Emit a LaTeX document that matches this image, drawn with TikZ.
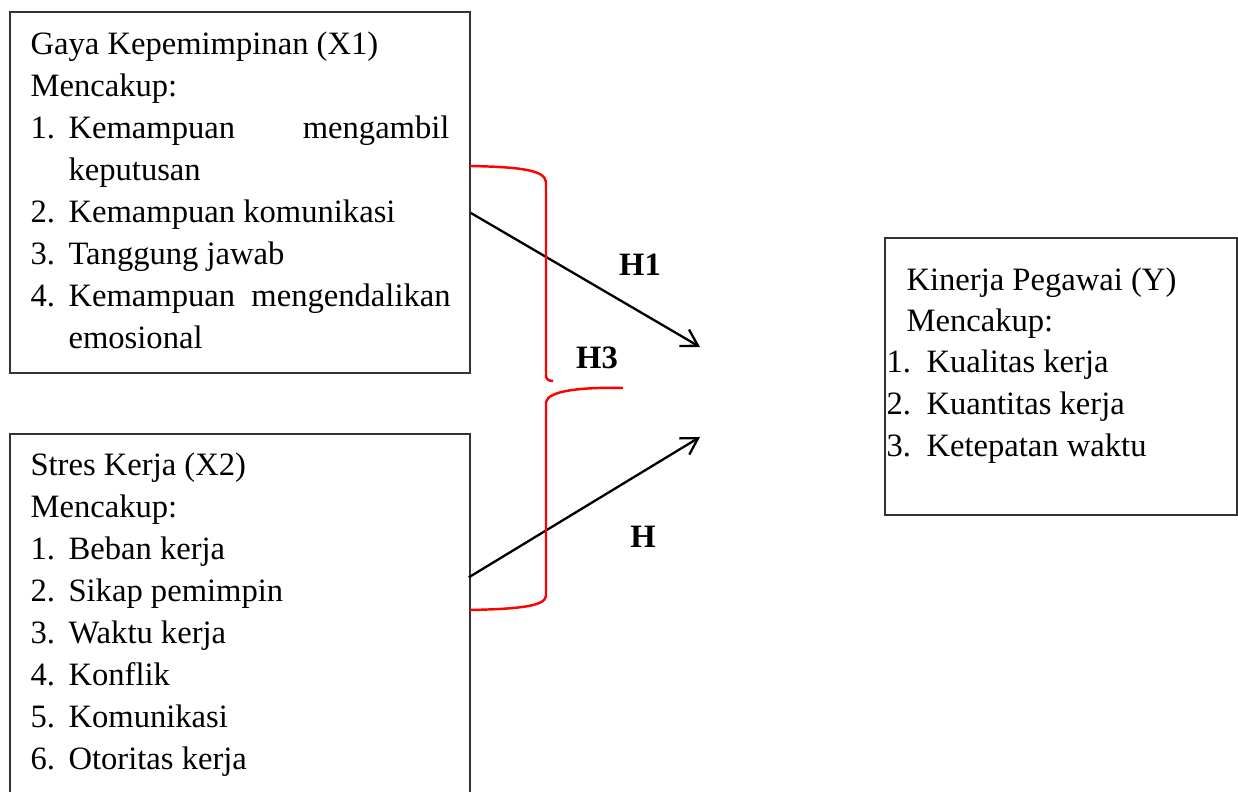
\documentclass[tikz,border=0pt]{standalone}
\usepackage{fontspec}
\setmainfont{Liberation Serif}
\usetikzlibrary{arrows.meta,fit}
\begin{document}
\begin{tikzpicture}[x=0.368pt,y=-0.368pt,
  box/.style={draw=black!80, line width=0.5pt, rectangle, inner sep=0pt},
  txt/.style={anchor=base west, inner sep=0pt, font=\fontsize{12}{14}\selectfont},
  hyp/.style={inner sep=0pt, font=\fontsize{12}{14}\selectfont\bfseries},
  link/.style={line width=0.85pt, -{Straight Barb[length=5.9pt,width=7pt]}},
  bracestyle/.style={red, line width=0.9pt}]
\useasboundingbox (0,0) rectangle (1238,792);
\clip (0,0) rectangle (1238,792);
% boxes
\node[box, fit={(10,12) (470,373)}] (x1) {};
\node[box, fit={(10,434) (470,830)}] (x2) {};
\node[box, fit={(885,238) (1237,515)}] (y) {};
% X1 text
\node[txt] (x1t) at (30,55) {Gaya Kepemimpinan (X1)};
\node[txt] (x1m) at (30,97) {Mencakup:};
\node[txt] (x1n1) at (30,139) {1.};
\node[txt] (x1i1) at (68,139) {\makebox[140.2pt][s]{Kemampuan\hfill mengambil}};
\node[txt] (x1i1b) at (68,181) {keputusan};
\node[txt] (x1n2) at (30,223) {2.};
\node[txt] (x1i2) at (68,223) {Kemampuan komunikasi};
\node[txt] (x1n3) at (30,265) {3.};
\node[txt] (x1i3) at (68,265) {Tanggung jawab};
\node[txt] (x1n4) at (30,307) {4.};
\node[txt] (x1i4) at (68,307) {\makebox[140.6pt][s]{Kemampuan\hfill mengendalikan}};
\node[txt] (x1i4b) at (68,349) {emosional};
% X2 text
\node[txt] (x2t) at (30,476) {Stres Kerja (X2)};
\node[txt] (x2m) at (30,518) {Mencakup:};
\node[txt] (x2n1) at (30,560) {1.};
\node[txt] (x2i1) at (68,560) {Beban kerja};
\node[txt] (x2n2) at (30,602) {2.};
\node[txt] (x2i2) at (68,602) {Sikap pemimpin};
\node[txt] (x2n3) at (30,644) {3.};
\node[txt] (x2i3) at (68,644) {Waktu kerja};
\node[txt] (x2n4) at (30,686) {4.};
\node[txt] (x2i4) at (68,686) {Konflik};
\node[txt] (x2n5) at (30,728) {5.};
\node[txt] (x2i5) at (68,728) {Komunikasi};
\node[txt] (x2n6) at (30,770) {6.};
\node[txt] (x2i6) at (68,770) {Otoritas kerja};
% Y text
\node[txt] (yt) at (906,291) {Kinerja Pegawai (Y)};
\node[txt] (ym) at (906,332) {Mencakup:};
\node[txt] (yn1) at (886,373) {1.};
\node[txt] (yi1) at (926,373) {Kualitas kerja};
\node[txt] (yn2) at (886,415) {2.};
\node[txt] (yi2) at (926,415) {Kuantitas kerja};
\node[txt] (yn3) at (886,457) {3.};
\node[txt] (yi3) at (926,457) {Ketepatan waktu};
% hypothesis labels
\node[hyp] (h1) at (640,265) {H1};
\node[hyp] (h3) at (597,358) {H3};
\node[hyp] (h2) at (643,537) {H};
% arrows
\coordinate (e1) at (700,347);
\coordinate (e2) at (700,437);
\draw[link] ([yshift=-7.5pt]x1.east) -- (e1);
\draw[link] ([xshift=-0.7pt,yshift=-53pt]x2.north east) -- (e2);
% red brace
\draw[bracestyle] (470,166) .. controls (520,167) and (545,170) .. (546,182) -- (546,375) .. controls (546,379) and (548,381) .. (553,381);
\draw[bracestyle] (623,388) .. controls (580,387) and (548,391) .. (546,402) -- (546,596) .. controls (545,606) and (520,609) .. (470,610);
\end{tikzpicture}
\end{document}
